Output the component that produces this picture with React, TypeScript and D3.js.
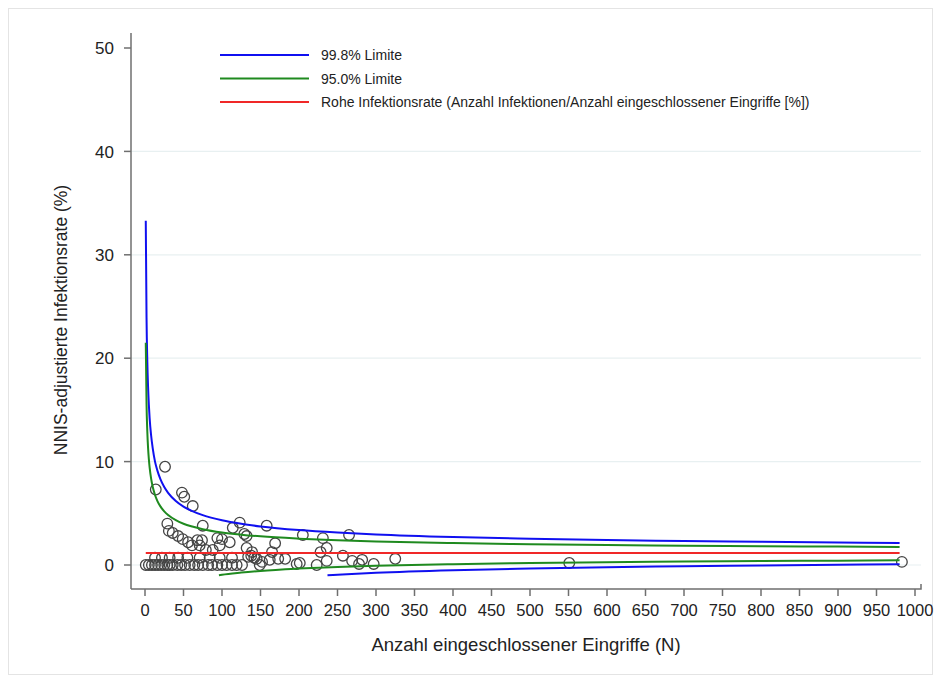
import React from "react";
import * as d3 from "d3";

// Funnel limit curves (n, rate %)
const upper998N = [1, 2, 3, 4, 5, 6, 8, 10, 13, 16, 20, 25, 30, 40, 50, 60, 75, 100, 125, 150, 200, 250, 300, 400, 500, 600, 700, 800, 900, 980];
const upper998V = [33.3, 23.9, 19.7, 17.2, 15.5, 14.2, 12.5, 11.3, 10.0, 9.15, 8.3, 7.54, 6.98, 6.19, 5.65, 5.26, 4.82, 4.32, 3.98, 3.73, 3.38, 3.14, 2.96, 2.71, 2.54, 2.41, 2.32, 2.24, 2.17, 2.13];
const upper950N = upper998N;
const upper950V = [21.5, 15.55, 12.9, 11.3, 10.24, 9.44, 8.33, 7.56, 6.77, 6.21, 5.67, 5.19, 4.83, 4.33, 3.99, 3.74, 3.46, 3.14, 2.93, 2.77, 2.55, 2.39, 2.28, 2.12, 2.01, 1.93, 1.87, 1.82, 1.78, 1.75];
const lower950N = [96, 100, 125, 150, 200, 250, 300, 400, 500, 600, 700, 800, 900, 980];
const lower950V = [-0.99, -0.94, -0.73, -0.57, -0.35, -0.19, -0.08, 0.08, 0.19, 0.27, 0.33, 0.38, 0.42, 0.45];
const lower998N = [237, 250, 300, 400, 500, 600, 700, 800, 900, 980];
const lower998V = [-0.99, -0.94, -0.76, -0.51, -0.34, -0.21, -0.12, -0.04, 0.03, 0.07];
const rawRateN = [1, 980];
const rawRateV = [1.15, 1.15];

// Hospitals (n, adjusted rate %)
const pointN = [
  26, 14, 48, 51, 62, 29, 31, 36, 43, 49, 56, 61, 68, 74, 71, 75, 79, 88, 94, 100,
  97, 110, 114, 123, 129, 132, 132, 134, 139, 138, 142, 145, 152, 158, 165, 169, 162, 173, 182, 197,
  205, 231, 265, 236, 228, 236, 223, 201, 257, 269, 278, 282, 297, 325, 551, 983,
  1, 5, 9, 13, 17, 21, 25, 29, 32, 36, 42, 47, 52, 58, 64, 69, 75, 82, 87, 94, 100, 106, 113, 119, 126, 149,
  13, 22, 32, 43, 55, 71, 84, 97, 113,
];
const pointV = [
  9.5, 7.3, 7.0, 6.6, 5.7, 4.0, 3.3, 3.1, 2.8, 2.5, 2.2, 1.9, 2.4, 2.4, 1.9, 3.8, 1.45, 1.45, 2.6, 2.5,
  1.9, 2.2, 3.6, 4.1, 3.0, 2.8, 1.65, 0.8, 1.25, 0.9, 0.7, 0.6, 0.3, 3.8, 1.25, 2.1, 0.5, 0.6, 0.6, 0.1,
  2.9, 2.6, 2.9, 1.65, 1.25, 0.4, 0, 0.2, 0.9, 0.4, 0.1, 0.5, 0.1, 0.6, 0.2, 0.3,
  0, 0, 0, 0, 0, 0, 0, 0, 0, 0, 0, 0, 0, 0, 0, 0, 0, 0, 0, 0, 0, 0, 0, 0, 0, 0,
  0.7, 0.7, 0.7, 0.7, 0.7, 0.7, 0.7, 0.7, 0.7,
];

const xTicks = d3.range(0, 1001, 50);
const yTicks = [0, 10, 20, 30, 40, 50];
const gridTicks = [0, 10, 20, 30, 40];

const legendItems = [
  { label: "99.8% Limite", color: "#1010f0" },
  { label: "95.0% Limite", color: "#1f8a1f" },
  { label: "Rohe Infektionsrate (Anzahl Infektionen/Anzahl eingeschlossener Eingriffe [%])", color: "#f02828" },
];

const FONT = "'Liberation Sans', Arial, sans-serif";

export default function App() {
  const W = 941, H = 682;
  const x = d3.scaleLinear().domain([0, 1000]).range([145, 915]);
  const y = d3.scaleLinear().domain([0, 50]).range([565, 48]);
  const axisX = 131, axisY = 589;

  const line = d3
    .line<[number, number]>()
    .x((d) => x(d[0]))
    .y((d) => y(d[1]))
    .curve(d3.curveMonotoneX);
  const mk = (ns: number[], vs: number[]) => line(ns.map((n, i) => [n, vs[i]] as [number, number])) || "";

  const curves = [
    { d: mk(upper998N, upper998V), c: legendItems[0].color },
    { d: mk(lower998N, lower998V), c: legendItems[0].color },
    { d: mk(upper950N, upper950V), c: legendItems[1].color },
    { d: mk(lower950N, lower950V), c: legendItems[1].color },
    { d: mk(rawRateN, rawRateV), c: legendItems[2].color },
  ];

  return (
    <svg width={W} height={H} style={{ position: "absolute", left: 0, top: 0, background: "#fff" }} fontFamily={FONT}>
      <rect x={8.5} y={8.5} width={924} height={666} fill="#fff" stroke="#e4e4e4" strokeWidth={1} />
      {gridTicks.map((t) => (
        <line key={"g" + t} x1={axisX} x2={921} y1={y(t)} y2={y(t)} stroke="#e8f0f1" strokeWidth={1.2} />
      ))}
      {/* axes */}
      <line x1={axisX} x2={axisX} y1={33} y2={axisY} stroke="#6f6f6f" strokeWidth={1.5} />
      <path d={`M${axisX},${axisY}H${x(1000) + 6}V${axisY - 5}`} fill="none" stroke="#6f6f6f" strokeWidth={1.5} />
      {yTicks.map((t) => (
        <g key={"y" + t}>
          <line x1={axisX - 7} x2={axisX} y1={y(t)} y2={y(t)} stroke="#6f6f6f" strokeWidth={1.5} />
          <text x={axisX - 17} y={y(t)} dy="0.36em" textAnchor="end" fontSize={17} fill="#222">
            {t}
          </text>
        </g>
      ))}
      {xTicks.map((t) => (
        <g key={"x" + t}>
          <line x1={x(t)} x2={x(t)} y1={axisY} y2={axisY + 7} stroke="#6f6f6f" strokeWidth={1.5} />
          <text x={x(t)} y={616} textAnchor="middle" fontSize={16.5} fill="#222">
            {t}
          </text>
        </g>
      ))}
      <text x={526} y={651} textAnchor="middle" fontSize={18.5} fill="#222">
        Anzahl eingeschlossener Eingriffe (N)
      </text>
      <text transform="translate(67,320) rotate(-90)" textAnchor="middle" fontSize={17.5} fill="#222">
        NNIS-adjustierte Infektionsrate (%)
      </text>
      {/* points */}
      {pointN.map((n, i) => (
        <circle key={"p" + i} cx={x(n)} cy={y(pointV[i])} r={5.3} fill="none" stroke="#444" strokeWidth={1.3} />
      ))}
      {/* curves */}
      {curves.map((c, i) => (
        <path key={"c" + i} d={c.d} fill="none" stroke={c.c} strokeWidth={2} />
      ))}
      {/* legend */}
      {legendItems.map((it, i) => (
        <g key={"l" + i} transform={`translate(0,${55 + i * 23.5})`}>
          <line x1={220} x2={309} y1={0} y2={0} stroke={it.color} strokeWidth={2} />
          <text x={321} y={0} dy="0.36em" fontSize={14} fill="#222">
            {it.label}
          </text>
        </g>
      ))}
    </svg>
  );
}
